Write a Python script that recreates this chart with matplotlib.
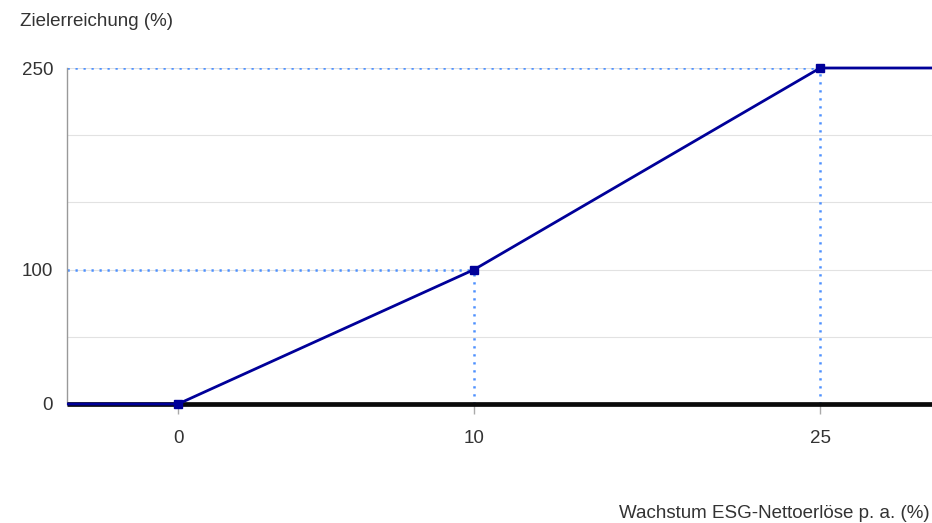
import numpy as np
import matplotlib
matplotlib.use("Agg")
import matplotlib.pyplot as plt
from matplotlib import font_manager

# ---- data ----
growth = [0, 10, 25]            # Wachstum ESG-Nettoerlöse p. a. (%)
achievement = [0, 100, 250]     # Zielerreichung (%)
x_ticks = [0, 10, 25]
y_ticks = [0, 100, 250]
y_grid = [50, 100, 150, 200, 250]
y_title = "Zielerreichung (%)"
x_title = "Wachstum ESG-Nettoerlöse p. a. (%)"

names = {f.name for f in font_manager.fontManager.ttflist}
fam = "Liberation Sans Narrow" if "Liberation Sans Narrow" in names else "Liberation Sans"
plt.rcParams['font.family'] = [fam, 'DejaVu Sans']

# piecewise-linear x scale (the reference spaces the ticks unevenly)
kx = np.array([0.0, 10.0, 25.0])
kp = np.array([0.0, 296.0, 642.0])
sl_lo = (kp[1] - kp[0]) / (kx[1] - kx[0])
sl_hi = (kp[2] - kp[1]) / (kx[2] - kx[1])

def fwd(x):
    x = np.asarray(x, dtype=float)
    y = np.interp(x, kx, kp)
    y = np.where(x < kx[0], kp[0] + (x - kx[0]) * sl_lo, y)
    y = np.where(x > kx[-1], kp[-1] + (x - kx[-1]) * sl_hi, y)
    return y

def inv(p):
    p = np.asarray(p, dtype=float)
    x = np.interp(p, kp, kx)
    x = np.where(p < kp[0], kx[0] + (p - kp[0]) / sl_lo, x)
    x = np.where(p > kp[-1], kx[-1] + (p - kp[-1]) / sl_hi, x)
    return x

W, H = 932, 523
fig = plt.figure(figsize=(W / 100, H / 100), dpi=100)
ax = fig.add_axes([67 / W, 1 - 404 / H, (W - 67) / W, (404 - 68) / H])
ax.set_xscale('function', functions=(fwd, inv))
xmin, xmax = -3.75, 29.85
ax.set_xlim(xmin, xmax)
ax.set_ylim(0, 250)

txt = '#333333'
dot_col = '#4d90fe'
line_col = '#000099'

for g in y_grid:
    ax.axhline(g, color='#e2e2e2', lw=0.8, zorder=1)

# dotted guide lines
for gx, gy in zip(growth[1:], achievement[1:]):
    ax.plot([xmin, gx], [gy, gy], color=dot_col, lw=1.8, ls=(0, (0.9, 2.3)), zorder=2)
    ax.plot([gx, gx], [0, gy], color=dot_col, lw=1.8, ls=(0, (0.9, 2.3)), zorder=2)

# baseline
ax.plot([xmin, xmax], [0, 0], color='#0a0a0a', lw=3.4, zorder=3, clip_on=False,
        solid_capstyle='butt', transform=ax.transData)

# main line (flat before first and after last point)
lx = [xmin] + growth + [xmax]
ly = [achievement[0]] + achievement + [achievement[-1]]
ax.plot(lx, ly, color=line_col, lw=2.0, zorder=4, clip_on=False, solid_capstyle='butt')
ax.plot(growth, achievement, 's', color=line_col, ms=6, zorder=5, clip_on=False)

for s in ['top', 'right', 'bottom']:
    ax.spines[s].set_visible(False)
ax.spines['left'].set_color('#999999')
ax.spines['left'].set_linewidth(1.0)

ax.set_xticks(x_ticks)
ax.set_xticklabels([str(v) for v in x_ticks])
ax.set_yticks(y_ticks)
ax.set_yticklabels([str(v) for v in y_ticks])
ax.tick_params(axis='x', length=7, width=1, color='#aaaaaa', labelsize=13.5,
               labelcolor=txt, pad=12, direction='out')
ax.tick_params(axis='y', length=0, labelsize=13.5, labelcolor=txt, pad=10)
ax.minorticks_off()

fig.text(20 / W, 1 - 21 / H, y_title, fontsize=13.5, color=txt, ha='left', va='center')
fig.text(930 / W, 1 - 513 / H, x_title, fontsize=13.5, color=txt, ha='right', va='center')

fig.savefig('out.png', dpi=100)
